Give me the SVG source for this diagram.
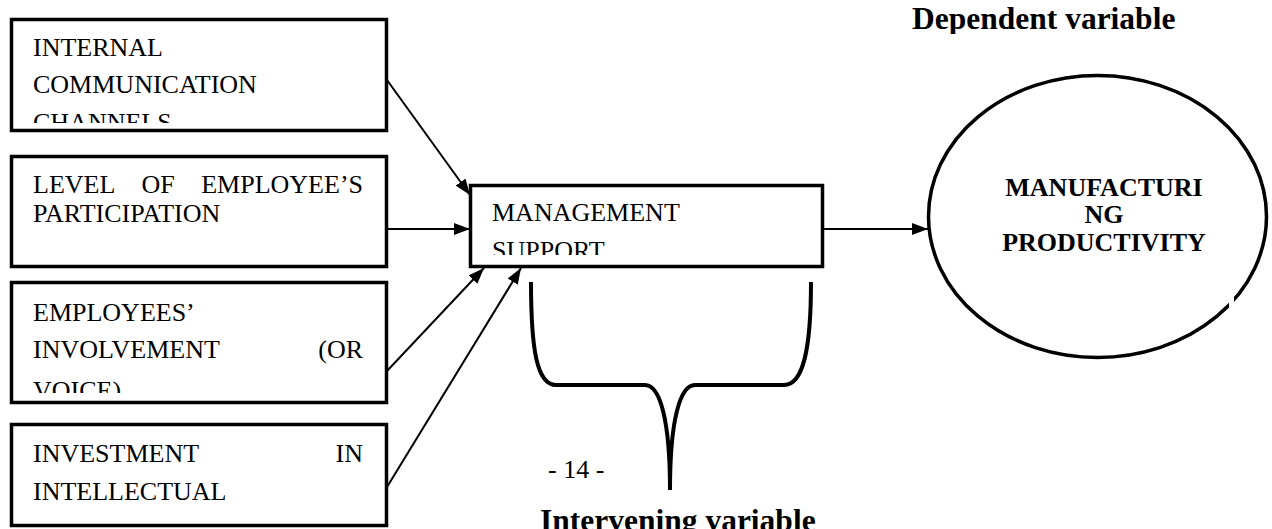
<svg xmlns="http://www.w3.org/2000/svg" width="1272" height="529" viewBox="0 0 1272 529">
<style>
.box{fill:#fff;stroke:#000;stroke-width:3.5}
.t{font-family:"Liberation Serif","Times New Roman",serif;font-size:26px;fill:#000}
.b{font-family:"Liberation Serif","Times New Roman",serif;font-weight:bold;fill:#000}
.c{fill:none;stroke:#000;stroke-width:2}
</style>
<defs>
<marker id="ah" viewBox="0 0 16 12" refX="16" refY="6" markerWidth="16" markerHeight="12" markerUnits="userSpaceOnUse" orient="auto">
<path d="M0,0 L16,6 L0,12 Z" fill="#000"/>
</marker>
<clipPath id="c1"><rect x="12" y="20" width="373" height="103"/></clipPath>
<clipPath id="c3"><rect x="12" y="283" width="373" height="110"/></clipPath>
<clipPath id="cm"><rect x="472" y="186" width="349" height="69"/></clipPath>
<clipPath id="cd"><rect x="880" y="0" width="340" height="34"/></clipPath>
</defs>
<rect width="1272" height="529" fill="#fff"/>
<g id="box1">
<rect class="box" x="11.5" y="19.5" width="375" height="111"/>
<g clip-path="url(#c1)">
<text class="t" x="33" y="56">INTERNAL</text>
<text class="t" x="33" y="93">COMMUNICATION</text>
<text class="t" x="33" y="131">CHANNELS</text>
</g>
</g>
<g id="box2">
<rect class="box" x="11.5" y="156.5" width="375" height="110"/>
<text class="t" x="33" y="193">LEVEL</text>
<text class="t" x="141.5" y="193">OF</text>
<text class="t" x="363" y="193" text-anchor="end">EMPLOYEE’S</text>
<text class="t" x="33" y="222">PARTICIPATION</text>
</g>
<g id="box3">
<rect class="box" x="11.5" y="282.5" width="375" height="120"/>
<g clip-path="url(#c3)">
<text class="t" x="33" y="321">EMPLOYEES’</text>
<text class="t" x="33" y="358">INVOLVEMENT</text>
<text class="t" x="363" y="358" text-anchor="end">(OR</text>
<text class="t" x="33" y="399">VOICE)</text>
</g>
</g>
<g id="box4">
<rect class="box" x="11.5" y="424.5" width="375" height="101"/>
<text class="t" x="33" y="462">INVESTMENT</text>
<text class="t" x="363" y="462" text-anchor="end">IN</text>
<text class="t" x="33" y="500">INTELLECTUAL</text>
</g>
<g id="management">
<rect class="box" x="470.5" y="185.5" width="352" height="81"/>
<g clip-path="url(#cm)">
<text class="t" x="492" y="221">MANAGEMENT</text>
<text class="t" x="492" y="259">SUPPORT</text>
</g>
</g>
<g id="productivity">
<ellipse cx="1097.5" cy="216.5" rx="169" ry="141" fill="#fff" stroke="#000" stroke-width="3.5"/>
<rect x="1229" y="290" width="5" height="22" fill="#fff"/>
<text class="b" font-size="26" x="1104" y="196" text-anchor="middle">MANUFACTURI</text>
<text class="b" font-size="26" x="1104" y="223" text-anchor="middle">NG</text>
<text class="b" font-size="26" x="1104" y="251" text-anchor="middle">PRODUCTIVITY</text>
</g>
<g id="dependent-label" clip-path="url(#cd)">
<text class="b" font-size="31.5" x="912" y="29">Dependent variable</text>
</g>
<g id="brace">
<path d="M531,282 C531,350 537,385 556,385 L645,385 C660,385 670,420 670,490 C670,420 680,385 695,385 L784,385 C803,385 811,350 811,282" fill="none" stroke="#000" stroke-width="4"/>
</g>
<g id="page-number">
<text class="t" font-size="23" x="548" y="478">- 14 -</text>
</g>
<g id="intervening-label">
<text class="b" font-size="31.5" x="540" y="531">Intervening variable</text>
</g>
<g id="connectors">
<line class="c" x1="387" y1="80" x2="470" y2="195" marker-end="url(#ah)"/>
<line class="c" x1="387" y1="229" x2="470" y2="229" marker-end="url(#ah)"/>
<line class="c" x1="387" y1="371" x2="484" y2="268" marker-end="url(#ah)"/>
<line class="c" x1="387" y1="487" x2="521" y2="268" marker-end="url(#ah)"/>
<line class="c" x1="823" y1="229" x2="928" y2="229" marker-end="url(#ah)"/>
</g>
</svg>
